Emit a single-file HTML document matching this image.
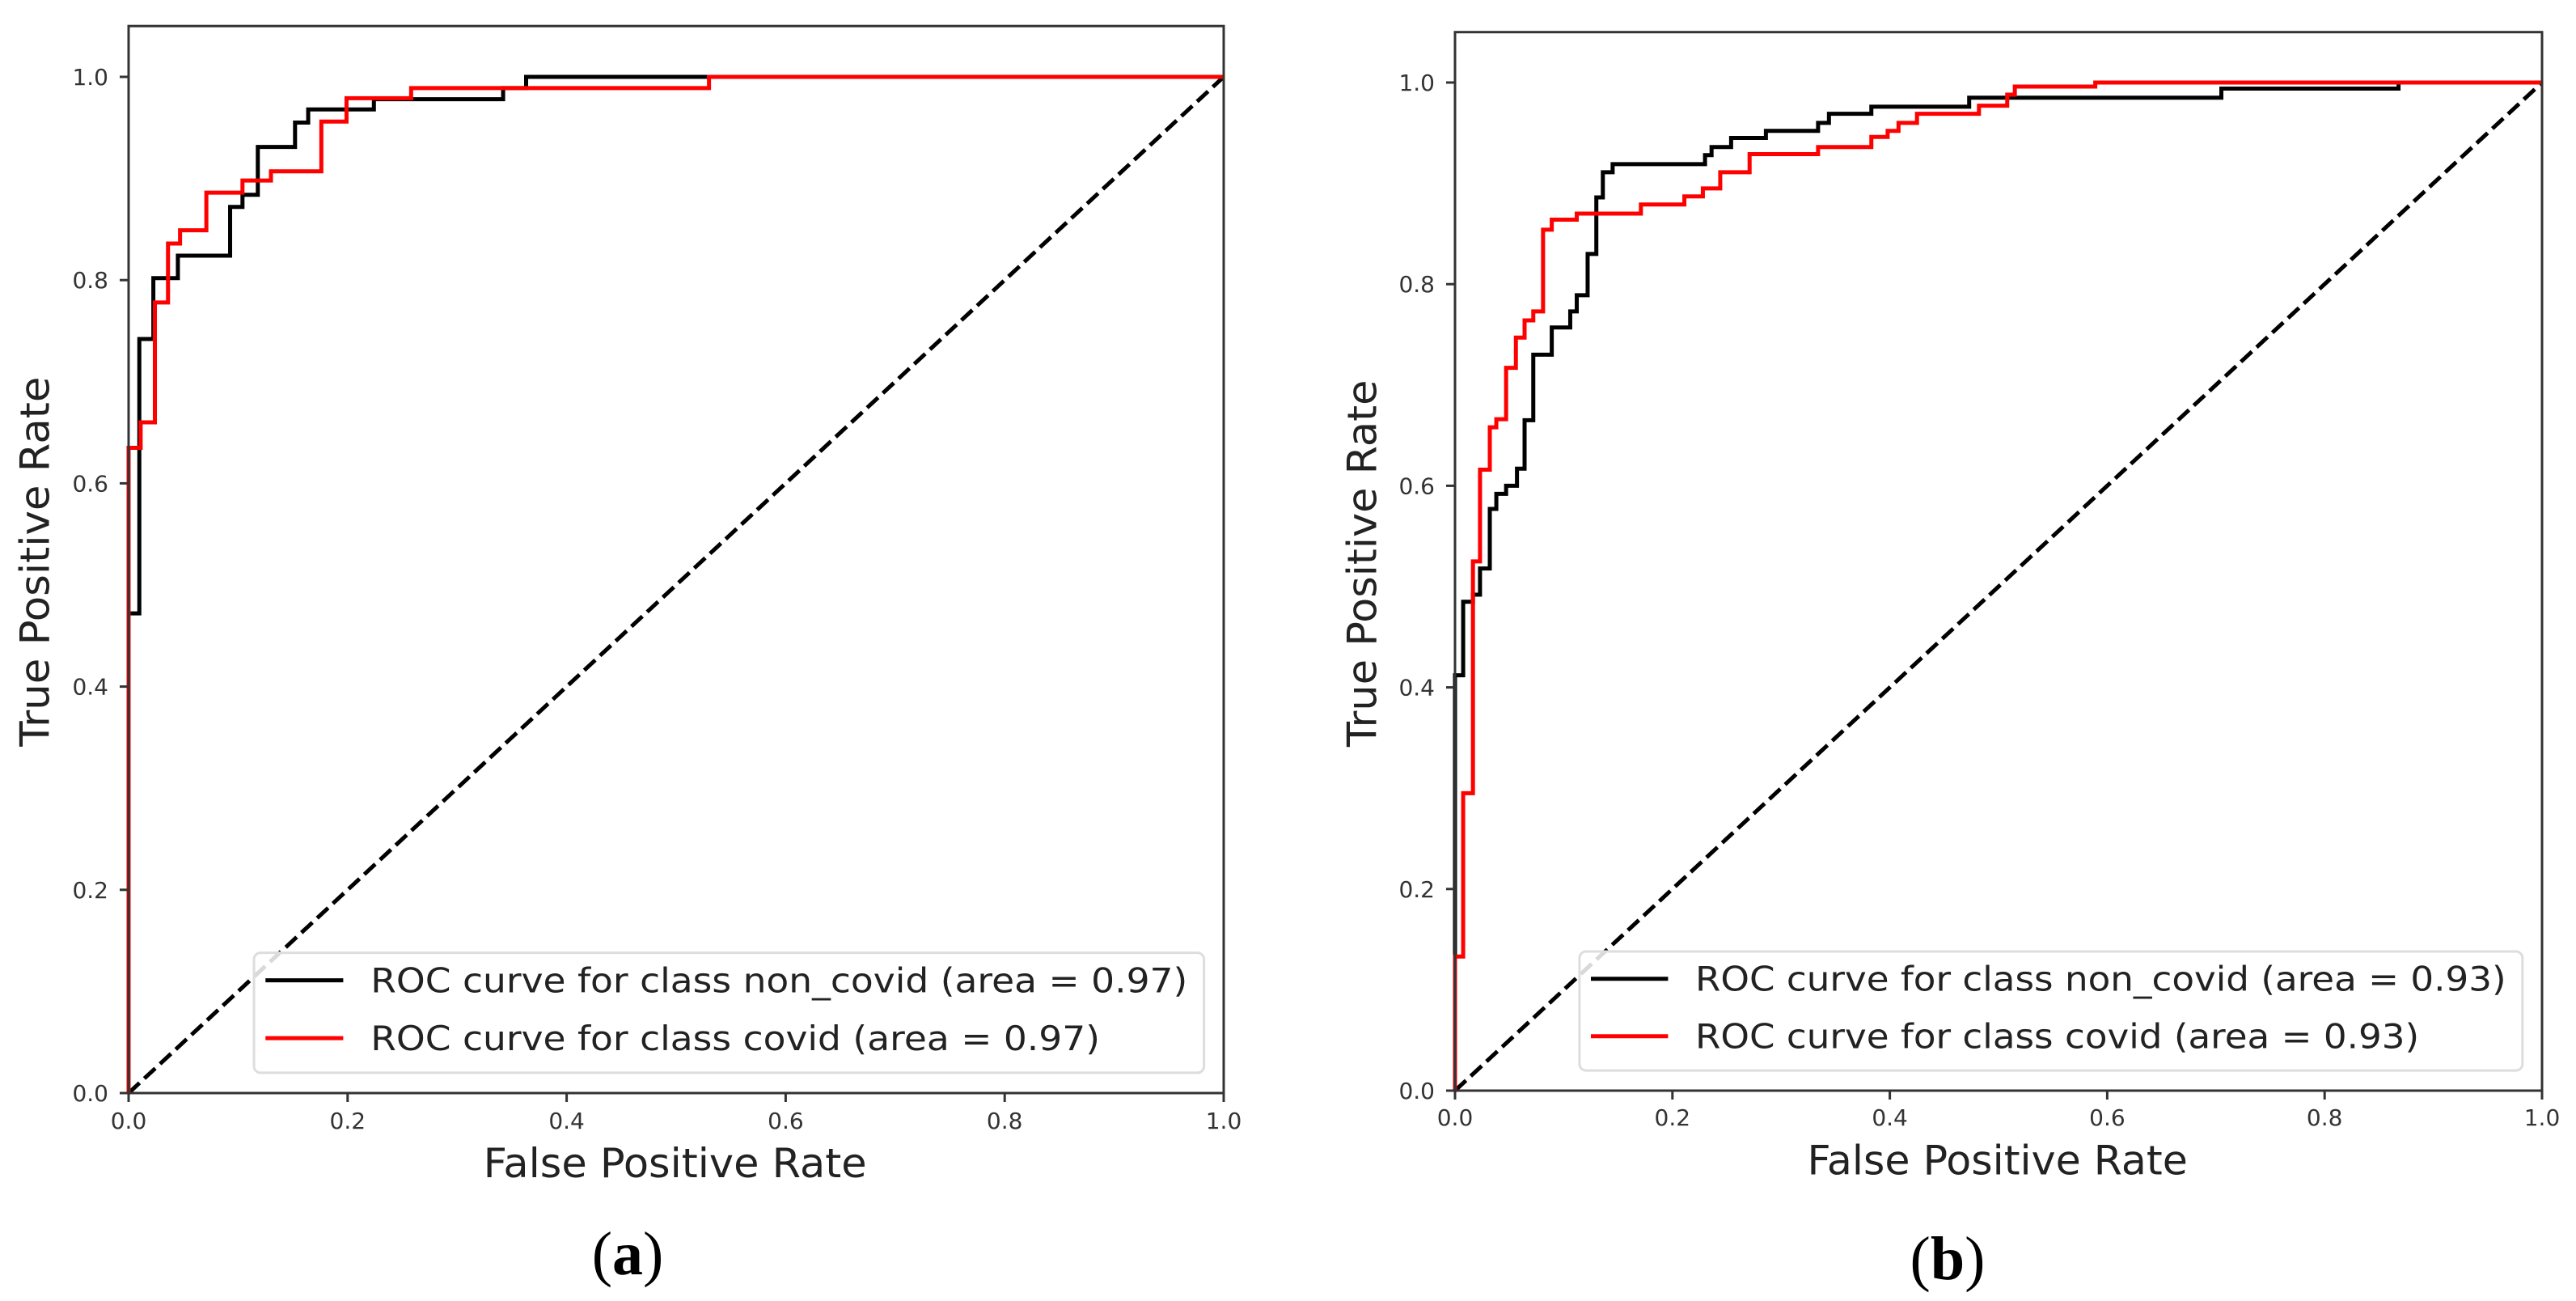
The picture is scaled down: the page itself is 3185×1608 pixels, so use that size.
<!DOCTYPE html>
<html><head><meta charset="utf-8"><style>
html,body{margin:0;padding:0;background:#fff;}
svg{display:block;}
</style></head><body>
<svg id="fig" width="3185" height="1608" viewBox="0 0 3185 1608" xmlns="http://www.w3.org/2000/svg" font-family="'DejaVu Sans','Liberation Sans',sans-serif"></svg>
<script>
// ---- chart data ----
const tickValues = [0, 0.2, 0.4, 0.6, 0.8, 1.0];
const tickLabels = ["0.0", "0.2", "0.4", "0.6", "0.8", "1.0"];
const legendLabelsA = ["ROC curve for class non_covid (area = 0.97)", "ROC curve for class covid (area = 0.97)"];
const legendLabelsB = ["ROC curve for class non_covid (area = 0.93)", "ROC curve for class covid (area = 0.93)"];
// Panel (a) step points: at fpr[i] tpr rises to tpr[i]
const aNonCovidFpr = [0, 0.0098, 0.0226, 0.045, 0.0927, 0.104, 0.118, 0.152, 0.164, 0.224, 0.342, 0.363];
const aNonCovidTpr = [0.472, 0.742, 0.802, 0.824, 0.872, 0.884, 0.931, 0.955, 0.968, 0.978, 0.989, 1.0];
const aCovidFpr = [0, 0.011, 0.024, 0.036, 0.047, 0.071, 0.104, 0.130, 0.176, 0.199, 0.258, 0.530];
const aCovidTpr = [0.635, 0.660, 0.778, 0.836, 0.849, 0.886, 0.898, 0.907, 0.956, 0.979, 0.989, 1.0];
// Panel (b)
const bNonCovidFpr = [0, 0.0075, 0.0165, 0.023, 0.032, 0.038, 0.047, 0.057, 0.064, 0.072, 0.089, 0.106, 0.112, 0.122, 0.130, 0.136, 0.145, 0.230, 0.236, 0.254, 0.286, 0.334, 0.344, 0.383, 0.473, 0.705, 0.868];
const bNonCovidTpr = [0.412, 0.485, 0.492, 0.518, 0.577, 0.592, 0.600, 0.617, 0.665, 0.730, 0.757, 0.773, 0.789, 0.830, 0.886, 0.911, 0.919, 0.928, 0.936, 0.945, 0.952, 0.960, 0.969, 0.976, 0.985, 0.994, 1.0];
const bCovidFpr = [0, 0.0075, 0.0165, 0.023, 0.032, 0.038, 0.047, 0.056, 0.064, 0.072, 0.081, 0.089, 0.112, 0.171, 0.211, 0.228, 0.244, 0.271, 0.334, 0.383, 0.398, 0.408, 0.425, 0.482, 0.508, 0.515, 0.589];
const bCovidTpr = [0.133, 0.295, 0.525, 0.616, 0.658, 0.666, 0.717, 0.747, 0.764, 0.773, 0.854, 0.864, 0.870, 0.879, 0.887, 0.895, 0.911, 0.929, 0.936, 0.946, 0.952, 0.960, 0.969, 0.977, 0.988, 0.996, 1.0];

const NS = "http://www.w3.org/2000/svg";
const svg = document.getElementById("fig");
function mk(tag, attrs, parent) {
  const e = document.createElementNS(NS, tag);
  for (const k in attrs) e.setAttribute(k, attrs[k]);
  (parent || svg).appendChild(e);
  return e;
}

function drawPanel(p) {
  const g = mk("g", {});
  
  
  const sx = v => p.x0 + v * (p.x1 - p.x0);
  const sy = v => p.y0 - v * (p.y0 - p.y1);
  const top = sy(1.05);

  const diag = mk("line", {x1: sx(0), y1: sy(0), x2: sx(1), y2: sy(1), stroke: "#000", "stroke-width": 5, "stroke-dasharray": "18.5 8"}, g);
  
  

  function stepPath(fx, ty) {
    let d = "M" + sx(0) + "," + sy(0);
    let prev = 0;
    for (let i = 0; i < fx.length; i++) {
      d += " L" + sx(fx[i]) + "," + sy(prev) + " L" + sx(fx[i]) + "," + sy(ty[i]);
      prev = ty[i];
    }
    d += " L" + sx(1) + "," + sy(prev);
    return d;
  }
  const l1 = mk("path", {d: stepPath(p.nfx, p.nty), fill: "none", stroke: "#000", "stroke-width": 5, "stroke-linejoin": "miter"}, g);
  
  
  const l2 = mk("path", {d: stepPath(p.cfx, p.cty), fill: "none", stroke: "#ff0000", "stroke-width": 5, "stroke-linejoin": "miter"}, g);
  
  

  const fr = mk("rect", {x: p.x0, y: top, width: p.x1 - p.x0, height: p.y0 - top, fill: "none", stroke: "#333", "stroke-width": 3}, g);
  
  

  for (let i = 0; i < tickValues.length; i++) {
    const v = tickValues[i];
    const tx = mk("line", {x1: sx(v), y1: p.y0, x2: sx(v), y2: p.y0 + 11, stroke: "#333", "stroke-width": 3}, g);
    
    
    const lx = mk("text", {x: sx(v), y: p.y0 + p.xlabOff, "font-size": 28, fill: "#333", "text-anchor": "middle"}, g);
    lx.textContent = tickLabels[i];
    
    
    const ty = mk("line", {x1: p.x0 - 11, y1: sy(v), x2: p.x0, y2: sy(v), stroke: "#333", "stroke-width": 3}, g);
    
    
    const ly = mk("text", {x: p.x0 - 25, y: sy(v) + 10, "font-size": 28, fill: "#333", "text-anchor": "end"}, g);
    ly.textContent = tickLabels[i];
    
    
  }

  const xt = mk("text", {x: sx(0.324), y: sy(-0.083), "font-size": 50, fill: "#222", textLength: (p.x1 - p.x0) * 0.350, lengthAdjust: "spacingAndGlyphs"}, g);
  xt.textContent = "False Positive Rate";
  
  
  const yx = sx(-0.086) + 18, yy = sy(0.341);
  const yt = mk("text", {x: yx, y: yy, "font-size": 50, fill: "#222", transform: "rotate(-90 " + yx + " " + yy + ")", textLength: (p.y0 - p.y1) * 0.364, lengthAdjust: "spacingAndGlyphs"}, g);
  yt.textContent = "True Positive Rate";
  
  

  const lg = mk("g", {}, g);
  
  
  mk("rect", {x: sx(0.1145), y: sy(0.138), width: sx(0.982) - sx(0.1145), height: sy(0.020) - sy(0.138), rx: 8, fill: "#fff", "fill-opacity": 0.85, stroke: "#ddd", "stroke-width": 3}, lg);
  const rows = [0.111, 0.054], cols = ["#000", "#ff0000"];
  for (let i = 0; i < 2; i++) {
    const h = mk("line", {x1: sx(0.125), y1: sy(rows[i]), x2: sx(0.196), y2: sy(rows[i]), stroke: cols[i], "stroke-width": 5}, lg);
    
    
    const labelEnd = i === 0 ? 0.967 : 0.887;
    const t = mk("text", {x: sx(0.221), y: sy(rows[i]) + 15, "font-size": 42, fill: "#222", textLength: sx(labelEnd) - sx(0.221), lengthAdjust: "spacingAndGlyphs"}, lg);
    t.textContent = p.legend[i];
    
    
  }

  const cap = mk("text", {x: p.capX, y: p.capY, "font-size": 76, fill: "#000", "text-anchor": "middle", "font-family": "'Liberation Serif',serif"}, g);
  cap.innerHTML = "(<tspan font-weight='bold'>" + p.cap + "</tspan>)";
  
  
}

drawPanel({name: "panel-a", x0: 159, x1: 1513, y0: 1351, y1: 95, xlabOff: 44,
  nfx: aNonCovidFpr, nty: aNonCovidTpr, cfx: aCovidFpr, cty: aCovidTpr,
  legend: legendLabelsA, cap: "a", capX: 776, capY: 1575});
drawPanel({name: "panel-b", x0: 1799, x1: 3143, y0: 1348, y1: 102, xlabOff: 43,
  nfx: bNonCovidFpr, nty: bNonCovidTpr, cfx: bCovidFpr, cty: bCovidTpr,
  legend: legendLabelsB, cap: "b", capX: 2408, capY: 1581});
</script>
</body></html>
